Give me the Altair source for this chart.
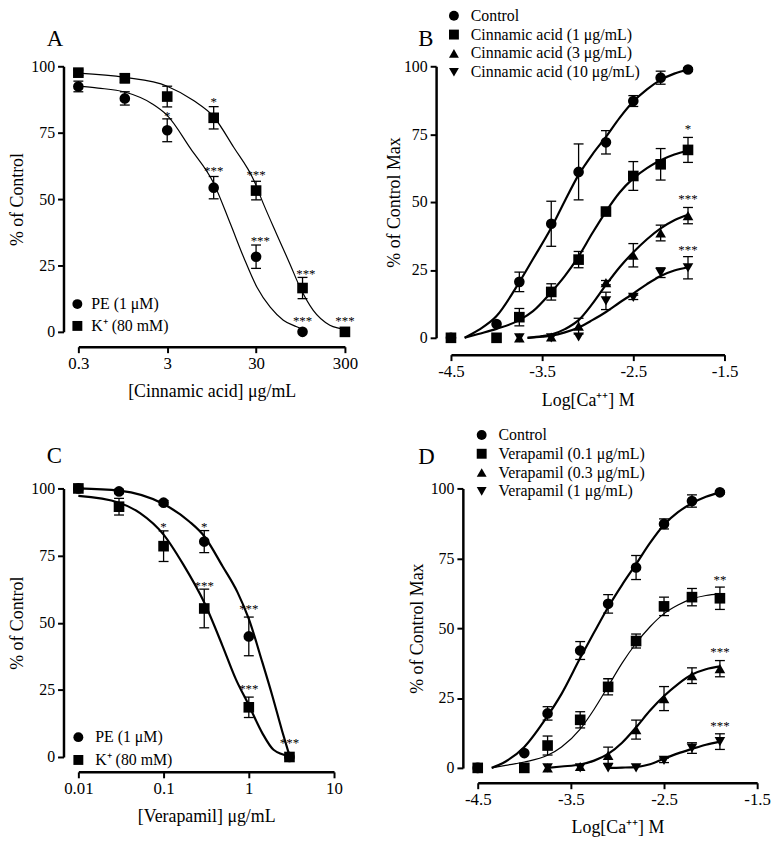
import altair as alt
import pandas as pd

FONT = "Liberation Serif"

# ---------------- Panel A : Cinnamic acid, % of control ----------------
A_x = [0.3, 1, 3, 10, 30, 100, 300]
A_pe_mean = [92.4, 87.9, 75.9, 54.3, 28.3, 0]
A_pe_sem = [2.0, 2.5, 4.3, 4.2, 4.4, 0]
A_k_mean = [97.6, 95.5, 88.6, 80.6, 53.2, 16.5, 0]
A_k_sem = [1.0, 1.7, 3.9, 4.2, 3.5, 4.0, 0]
A_pe_fit_x = [0.3, 0.5, 1, 2, 3, 5.5, 10, 15.5, 21.8, 30.7, 43.3, 60.8, 86, 100]
A_pe_fit_y = [92.5, 91.8, 90.3, 86, 81.5, 69, 56, 40.5, 28, 16.8, 9.3, 4.4, 1.9, 0.9]
A_k_fit_x = [0.3, 1, 3, 6, 10, 16.8, 28.2, 36.5, 51.3, 72.3, 93.6, 132, 203, 286, 300]
A_k_fit_y = [97.4, 95.8, 92.5, 87, 81, 69.5, 57.2, 48, 36.7, 25.5, 16.8, 8.1, 2.5, 0.9, 0.6]
A_star_x = [3, 10, 10, 30, 33.5, 109, 100, 300]
A_star_y = [82.1, 87.4, 61.2, 59.7, 34.8, 22.4, 5.0, 5.0]
A_star_t = ["*", "*", "***", "***", "***", "***", "***", "***"]
A_series = ["PE (1 \u03bcM)", "K\u207a (80 mM)"]

# ---------------- Panel B : Ca++ curves with cinnamic acid ----------------
CA_x = [-4.5, -4.0, -3.75, -3.4, -3.1, -2.8, -2.5, -2.2, -1.9]
B_ctrl_mean = [0, 5.1, 20.6, 42, 61.1, 72, 87.2, 95.8, 98.8]
B_ctrl_sem = [0, 0, 3.6, 8.3, 10.3, 4.3, 2.0, 2.4, 0.6]
B_c1_mean = [0, 0, 7.6, 16.9, 28.8, 46.5, 59.6, 63.9, 69.2]
B_c1_sem = [0, 0, 3.2, 3.0, 3.0, 0.8, 5.3, 5.8, 4.6]
B_c3_mean = [0, 0.3, 4.3, 20.3, 30.4, 38.6, 45]          # from -3.75
B_c3_sem = [0, 0, 2.9, 0.8, 4.3, 2.9, 3.0]
B_c10_mean = [0, 0, 0.3, 13.6, 14.9, 24, 25.8]           # from -3.75
B_c10_sem = [0, 0, 0, 3.2, 0.8, 1.8, 4.1]
B_fit_x_full = [-4.35, -4.2, -4.0, -3.75, -3.6, -3.4, -3.25, -3.1, -2.95, -2.8, -2.65, -2.5, -2.35, -2.2, -2.05, -1.9]
B_ctrl_fit = [0, 2.8, 8, 20.5, 29, 40.5, 50.5, 60, 67.5, 74, 81, 87, 91.5, 95, 97.3, 98.8]
B_c1_fit = [0, 1.4, 3.3, 6.5, 9.8, 16.8, 22.8, 30, 38.5, 46.5, 53.5, 58.7, 62.5, 65.4, 67.5, 69]
B_fit_x_low = [-3.66, -3.5, -3.4, -3.25, -3.1, -2.95, -2.8, -2.65, -2.5, -2.35, -2.2, -2.05, -1.9]
B_c3_fit = [0, 0.6, 1.2, 3.2, 6.5, 12.5, 19.5, 26, 31.5, 36.3, 40.3, 43.3, 45.3]
B_c10_fit = [0, 0.4, 0.8, 2, 3.8, 6.5, 9.5, 13, 16.3, 19.8, 22.8, 24.8, 26]
B_star_x = [-1.9, -1.9, -1.9]
B_star_y = [77.7, 51.7, 33.1]
B_star_t = ["*", "***", "***"]
B_series = ["Control", "Cinnamic acid (1 \u03bcg/mL)", "Cinnamic acid (3 \u03bcg/mL)",
            "Cinnamic acid (10 \u03bcg/mL)"]

# ---------------- Panel C : Verapamil, % of control ----------------
C_x = [0.01, 0.03, 0.1, 0.3, 1, 3]
C_pe_mean = [100, 98.9, 94.7, 80.2, 44.9, 0]
C_pe_sem = [0, 0.8, 0.8, 4.1, 7.2, 0]
C_k_mean = [100, 93.2, 78.5, 55.3, 18.5, 0]
C_k_sem = [0, 3.1, 5.7, 7.2, 3.8, 0]
C_pe_fit_x = [0.01, 0.03, 0.1, 0.2, 0.3, 0.49, 0.74, 1, 1.44, 1.88, 2.47, 3]
C_pe_fit_y = [100, 99.2, 94.2, 87.7, 82.2, 71.1, 61.2, 51.4, 35.3, 23, 9.5, 0.5]
C_k_fit_x = [0.01, 0.03, 0.053, 0.1, 0.17, 0.3, 0.49, 0.7, 1, 1.44, 1.95, 3]
C_k_fit_y = [97.2, 94.7, 90.8, 82.8, 71.7, 57.5, 41.5, 29.2, 19.3, 8.9, 2.7, 0.3]
C_star_x = [0.1, 0.3, 0.3, 1, 1, 3]
C_star_y = [86.5, 86.5, 64.5, 55.7, 26.1, 5.8]
C_star_t = ["*", "*", "***", "***", "***", "***"]
C_series = ["PE (1 \u03bcM)", "K\u207a (80 mM)"]

# ---------------- Panel D : Ca++ curves with verapamil ----------------
D_ctrl_mean = [0, 5.3, 19.5, 42, 58.7, 71.7, 87.3, 95.5, 98.6]
D_ctrl_sem = [0, 0, 2.4, 3.2, 3.3, 4.3, 1.8, 2.2, 0.6]
D_v01_mean = [0, 0, 8, 17.2, 29, 45.4, 57.8, 61.1, 60.7]
D_v01_sem = [0, 0, 3.4, 2.9, 2.9, 2.5, 3.3, 3.1, 4.0]
D_v03_mean = [0, 0.5, 4.5, 13.7, 24.8, 33, 35.5]        # from -3.75
D_v03_sem = [0, 0, 2.9, 3.4, 4.3, 2.8, 2.9]
D_v1_mean = [0, 0, 0, 0, 2.7, 7.1, 9.4]                  # from -3.75
D_v1_sem = [0, 0, 0, 0, 0.8, 1.9, 2.8]
D_fit_x_full = [-4.35, -4.2, -4.0, -3.75, -3.6, -3.4, -3.25, -3.1, -2.95, -2.8, -2.65, -2.5, -2.35, -2.2, -2.05, -1.9]
D_ctrl_fit = [0, 2.3, 7.5, 18.6, 26.5, 39.3, 48.5, 57.5, 65.5, 72.9, 80.5, 87, 91.5, 94.7, 97, 98.6]
D_v01_fit = [0, 0.9, 2.1, 4.5, 7.5, 13.9, 21, 29.2, 37.5, 44.6, 50.5, 55.2, 58.3, 60.5, 61.7, 62.3]
D_v03_fit_x = [-3.75, -3.6, -3.4, -3.25, -3.1, -2.95, -2.8, -2.65, -2.5, -2.35, -2.2, -2.05, -1.9]
D_v03_fit = [0, 0.5, 1.2, 2.6, 5, 9, 14.5, 20.5, 25.7, 30, 33.4, 35.3, 36.3]
D_v1_fit_x = [-3.1, -2.95, -2.8, -2.65, -2.5, -2.35, -2.2, -2.05, -1.9]
D_v1_fit = [0, 0.1, 0.3, 1.3, 3.3, 5.2, 6.8, 8.3, 9.4]
D_star_x = [-1.9, -1.9, -1.9]
D_star_y = [67.8, 42.2, 15.7]
D_star_t = ["**", "***", "***"]
D_series = ["Control", "Verapamil (0.1 \u03bcg/mL)", "Verapamil (0.3 \u03bcg/mL)",
            "Verapamil (1 \u03bcg/mL)"]

SHAPES4 = ["circle", "square", "triangle-up", "triangle-down"]
SHAPES2 = ["circle", "square"]


def pts_df(series, xs, means, sems):
    rows = []
    for s, x, m, e in zip(series, xs, means, sems):
        for xi, mi, ei in zip(x, m, e):
            rows.append({"series": s, "x": xi, "y": mi, "err": ei})
    return pd.DataFrame(rows)


def fit_df(series, xs, ys):
    rows = []
    for s, x, y in zip(series, xs, ys):
        for xi, yi in zip(x, y):
            rows.append({"series": s, "x": xi, "y": yi})
    return pd.DataFrame(rows)


def star_df(xs, ys, ts):
    return pd.DataFrame({"x": xs, "y": ys, "t": ts})


def panel(pts, fits, stars, order, shapes, xscale, xaxis, xtitle, ytitle,
          w, h, leg, letter, letter_pos, thin, ytitle_pad=4):
    yscale = alt.Scale(domain=[0, 100], nice=False, zero=False)
    yaxis = alt.Axis(values=[0, 25, 50, 75, 100], labelFlush=False, titlePadding=ytitle_pad)

    def ex(f):
        return alt.X(f"{f}:Q", scale=xscale, axis=xaxis, title=xtitle)

    def ey(f):
        return alt.Y(f"{f}:Q", scale=yscale, axis=yaxis, title=ytitle)

    thick_fits = fits[~fits["series"].isin(thin)]
    thin_fits = fits[fits["series"].isin(thin)]
    layers = []
    layers.append(alt.Chart(thick_fits).mark_line(color="black", strokeWidth=2.2,
                                                  interpolate="monotone")
                  .encode(x=ex("x"), y=ey("y"), detail="series:N"))
    if len(thin_fits):
        layers.append(alt.Chart(thin_fits).mark_line(color="black", strokeWidth=1.2,
                                                     interpolate="monotone")
                      .encode(x=ex("x"), y=ey("y"), detail="series:N"))
    err = pts[pts["err"] > 0]
    layers.append(alt.Chart(err).transform_calculate(lo="datum.y - datum.err",
                                                     hi="datum.y + datum.err")
                  .mark_rule(color="black", strokeWidth=1.3)
                  .encode(x=ex("x"), y=ey("lo"), y2="hi:Q"))
    layers.append(alt.Chart(err).transform_calculate(lo="datum.y - datum.err",
                                                     hi="datum.y + datum.err")
                  .transform_fold(["lo", "hi"], as_=["k", "v"])
                  .mark_tick(orient="horizontal", size=10, thickness=1.3,
                             color="black", opacity=1)
                  .encode(x=ex("x"), y=ey("v")))
    layers.append(alt.Chart(pts).mark_point(filled=True, size=115, opacity=1, color="black")
                  .encode(x=ex("x"), y=ey("y"),
                          shape=alt.Shape("series:N",
                                          scale=alt.Scale(domain=order, range=shapes),
                                          title=None,
                                          legend=alt.Legend(orient="none", legendX=leg[0],
                                                            legendY=leg[1], padding=0,
                                                            labelFont=FONT, labelFontSize=16,
                                                            labelColor="black", labelLimit=400,
                                                            labelOffset=leg[3],
                                                            symbolSize=100,
                                                            symbolFillColor="black",
                                                            symbolStrokeWidth=0,
                                                            symbolOpacity=1,
                                                            rowPadding=leg[2]))))
    layers.append(alt.Chart(stars).mark_text(font=FONT, fontSize=13, color="black",
                                             baseline="alphabetic", dy=6)
                  .encode(x=ex("x"), y=ey("y"), text="t:N"))
    layers.append(alt.Chart(pd.DataFrame({"t": [letter]}))
                  .mark_text(font=FONT, fontSize=23, color="black", align="left",
                             baseline="alphabetic")
                  .encode(x=alt.value(letter_pos[0]), y=alt.value(letter_pos[1]), text="t:N"))
    return alt.layer(*layers).properties(width=w, height=h)


ptsA = pts_df(A_series, [A_x[:6], A_x], [A_pe_mean, A_k_mean], [A_pe_sem, A_k_sem])
fitA = fit_df(A_series, [A_pe_fit_x, A_k_fit_x], [A_pe_fit_y, A_k_fit_y])
pA = panel(ptsA, fitA, star_df(A_star_x, A_star_y, A_star_t), A_series, SHAPES2,
           alt.Scale(type="log", domain=[0.3, 300], nice=False),
           alt.Axis(values=[0.3, 3, 30, 300], format="~g", labelFlush=False, labelOverlap=False),
           "[Cinnamic acid] \u03bcg/mL", "% of Control", 269, 268,
           (-9, 232, 6, 6), "A", (-32, -20), A_series)

ptsB = pts_df(B_series, [CA_x, CA_x, CA_x[2:], CA_x[2:]],
              [B_ctrl_mean, B_c1_mean, B_c3_mean, B_c10_mean],
              [B_ctrl_sem, B_c1_sem, B_c3_sem, B_c10_sem])
fitB = fit_df(B_series, [B_fit_x_full, B_fit_x_full, B_fit_x_low, B_fit_x_low],
              [B_ctrl_fit, B_c1_fit, B_c3_fit, B_c10_fit])
ca_axis_b = alt.Axis(values=[-4.5, -3.5, -2.5, -1.5], labelExpr="toString(datum.value)",
                     labelFlush=False, labelOverlap=False, offset=17, titlePadding=12)
ca_axis_d = alt.Axis(values=[-4.5, -3.5, -2.5, -1.5], labelExpr="toString(datum.value)",
                     labelFlush=False, labelOverlap=False)
pB = panel(ptsB, fitB, star_df(B_star_x, B_star_y, B_star_t), B_series, SHAPES4,
           alt.Scale(domain=[-4.5, -1.5], nice=False, zero=False), ca_axis_b,
           "Log[Ca\u207a\u207a] M", "% of Control Max", 276, 274,
           (-5, -59, 3, 9), "B", (-33, -20), [], ytitle_pad=0)

ptsC = pts_df(C_series, [C_x, C_x], [C_pe_mean, C_k_mean], [C_pe_sem, C_k_sem])
fitC = fit_df(C_series, [C_pe_fit_x, C_k_fit_x], [C_pe_fit_y, C_k_fit_y])
pC = panel(ptsC, fitC, star_df(C_star_x, C_star_y, C_star_t), C_series, SHAPES2,
           alt.Scale(type="log", domain=[0.01, 10], nice=False),
           alt.Axis(values=[0.01, 0.1, 1, 10], format="~g", labelFlush=False, labelOverlap=False),
           "[Verapamil] \u03bcg/mL", "% of Control", 258, 271,
           (-8, 243, 7, 9), "C", (-32, -26), [])

ptsD = pts_df(D_series, [CA_x, CA_x, CA_x[2:], CA_x[2:]],
              [D_ctrl_mean, D_v01_mean, D_v03_mean, D_v1_mean],
              [D_ctrl_sem, D_v01_sem, D_v03_sem, D_v1_sem])
fitD = fit_df(D_series, [D_fit_x_full, D_fit_x_full, D_v03_fit_x, D_v1_fit_x],
              [D_ctrl_fit, D_v01_fit, D_v03_fit, D_v1_fit])
pD = panel(ptsD, fitD, star_df(D_star_x, D_star_y, D_star_t), D_series, SHAPES4,
           alt.Scale(domain=[-4.5, -1.5], nice=False, zero=False), ca_axis_d,
           "Log[Ca\u207a\u207a] M", "% of Control Max", 282, 282,
           (-4, -62, 3, 9), "D", (-60, -25), [D_series[1]])

res = dict(x="independent", y="independent", shape="independent")
top = alt.hconcat(pA, pB, spacing=107, bounds="flush").resolve_scale(**res).resolve_legend(shape="independent")
bottom = alt.hconcat(pC, pD, spacing=145, bounds="flush").resolve_scale(**res).resolve_legend(shape="independent")
chart = (alt.vconcat(top, bottom, spacing=426, bounds="flush")
         .resolve_scale(**res).resolve_legend(shape="independent")
         .properties(padding={"left": 1, "top": -4, "right": 5, "bottom": 5})
         .configure_view(stroke=None)
         .configure_axis(domainColor="black", domainWidth=2.5, tickColor="black",
                         tickWidth=2, tickSize=6, labelFont=FONT,
                         labelColor="black", titleFont=FONT, titleFontSize=18,
                         titleFontWeight="normal", titleColor="black", grid=False,
                         labelPadding=3, offset=15)
         .configure_axisX(labelFontSize=17, titlePadding=11)
         .configure_axisY(labelFontSize=16))

chart.save("out.html", embed_options={"renderer": "svg", "actions": False})
